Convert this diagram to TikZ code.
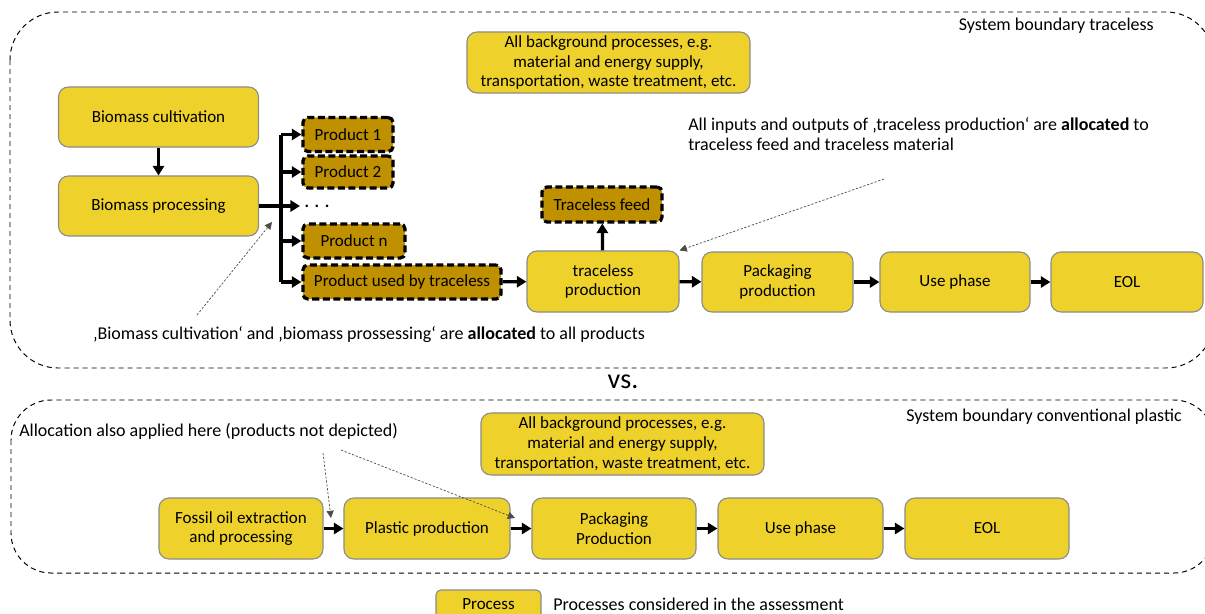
\documentclass[tikz,border=0pt]{standalone}
\usepackage{fontspec}
\setmainfont{Carlito}
\usetikzlibrary{arrows.meta}
\definecolor{procfill}{HTML}{EED12B}
\definecolor{prodfill}{HTML}{BF9000}
\definecolor{procline}{HTML}{8C8C8C}
\tikzset{
	proc/.style={draw=procline, line width=0.8pt, fill=procfill, rounded corners=0.25cm, align=center, inner sep=1pt},
	prod/.style={draw=black, line width=2.3pt, dash pattern=on 5pt off 2.5pt, fill=prodfill, rounded corners=0.12cm, inner sep=1pt},
	flow/.style={line width=2.3pt, -{Triangle[length=2.4mm,width=2.8mm]}},
	bus/.style={line width=2.3pt},
	note/.style={line width=0.5pt, dash pattern=on 1.6pt off 1.2pt, draw=black!70, -{Triangle[length=1.8mm,width=1.8mm]}},
	boundary/.style={line width=0.7pt, dash pattern=on 3.6pt off 2.8pt},
	lbl/.style={inner sep=0pt, align=left, font=\fontsize{12.8}{14.6}\selectfont}
}
\begin{document}
\fontsize{12.1}{13.9}\selectfont
\begin{tikzpicture}[x=0.025cm, y=-0.025cm]
	\useasboundingbox (0,0) rectangle (1205,613);
		\draw[boundary, rounded corners=1.2cm] (10,12) rectangle (1214,368);
		\draw[boundary, rounded corners=1.0cm] (11,400) rectangle (1214,573);
		\node[lbl, anchor=east] (BndT) at (1154,26) {System boundary traceless};
		\node[lbl, anchor=east] (BndC) at (1182,417) {System boundary conventional plastic};
		\node[lbl, font=\fontsize{20}{22}\selectfont] (Vs) at (623,382) {vs.};

		\node[proc, minimum width=7.075cm, minimum height=1.525cm] (BgT) at (608.5,62.5) {All background processes, e.g.\\material and energy supply,\\transportation, waste treatment, etc.};
		\node[proc, minimum width=5cm, minimum height=1.5cm] (Cult) at (158.5,117) {Biomass cultivation};
		\node[proc, minimum width=5cm, minimum height=1.5cm] (Proc) at (158.5,206) {Biomass processing};
		\node[prod, minimum width=2.25cm, minimum height=0.85cm] (P1) at (348,134.5) {Product 1};
		\node[prod, minimum width=2.25cm, minimum height=0.8cm] (P2) at (348,172) {Product 2};
		\node[inner sep=1pt, anchor=west, font=\bfseries] (Dots) at (300,206) {\,.\,\,.\,\,.};
		\node[prod, minimum width=2.55cm, minimum height=0.85cm] (Pn) at (354,241) {Product n};
		\node[prod, minimum width=4.95cm, minimum height=0.85cm] (Pused) at (402,282) {Product used by traceless};
		\node[proc, minimum width=3.8cm, minimum height=1.525cm] (Tprod) at (603,281.5) {traceless\\production};
		\node[prod, minimum width=3cm, minimum height=0.87cm] (Tfeed) at (602,204.5) {Traceless feed};
		\node[proc, minimum width=3.775cm, minimum height=1.5cm] (Pack) at (777.5,282) {Packaging\\production};
		\node[proc, minimum width=3.75cm, minimum height=1.5cm] (Use) at (955,282) {Use phase};
		\node[proc, minimum width=3.8cm, minimum height=1.5cm] (Eol) at (1127,282) {EOL};
		\coordinate (Bus) at (281,206);

		\draw[flow] (Cult) -- (Proc);
		\draw[flow] (Proc.east) -- (Dots.west);
		\draw[bus] (Bus |- P1.west) -- (Bus |- Pused.west);
		\foreach \p in {P1,P2,Pn,Pused}{
			\draw[flow] (Bus |- \p.west) -- (\p.west);
		}
		\draw[flow] (Pused) -- (Tprod);
		\draw[flow] (Tprod) -- (Tfeed);
		\draw[flow] (Tprod) -- (Pack);
		\draw[flow] (Pack) -- (Use);
		\draw[flow] (Use) -- (Eol);

		\node[lbl, anchor=north west] (NoteT) at (688,117) {All inputs and outputs of ‚traceless production‘ are \textbf{allocated} to\\traceless feed and traceless material};
		\coordinate (NoteTs) at (884,179);
		\draw[note] (NoteTs) -- (Tprod.north east);
		\node[lbl] (NoteB) at (369,335) {‚Biomass cultivation‘ and ‚biomass prossessing‘ are \textbf{allocated} to all products};
		\coordinate (NoteBs) at (197,315);
		\coordinate (NoteBe) at (272,222);
		\draw[note] (NoteBs) -- (NoteBe);

		\node[proc, minimum width=7.075cm, minimum height=1.55cm] (BgC) at (622.5,444) {All background processes, e.g.\\material and energy supply,\\transportation, waste treatment, etc.};
		\node[proc, minimum width=4.1cm, minimum height=1.525cm] (Fossil) at (241,528.5) {Fossil oil extraction\\and processing};
		\node[proc, minimum width=4.15cm, minimum height=1.525cm] (Plastic) at (427,528.5) {Plastic production};
		\node[proc, minimum width=4.1cm, minimum height=1.525cm] (PackC) at (614,528.5) {Packaging\\Production};
		\node[proc, minimum width=4.125cm, minimum height=1.525cm] (UseC) at (800.5,528.5) {Use phase};
		\node[proc, minimum width=4.1cm, minimum height=1.525cm] (EolC) at (987,528.5) {EOL};
		\draw[flow] (Fossil) -- (Plastic);
		\draw[flow] (Plastic) -- (PackC);
		\draw[flow] (PackC) -- (UseC);
		\draw[flow] (UseC) -- (EolC);

		\node[lbl, anchor=west] (NoteC) at (19,431) {Allocation also applied here (products not depicted)};
		\coordinate (NoteCa) at (323,453);
		\coordinate (NoteCb) at (341,450);
		\coordinate (NoteCe) at (331,518);
		\coordinate (NoteCf) at (515,518);
		\draw[note] (NoteCa) -- (NoteCe);
		\draw[note] (NoteCb) -- (NoteCf);

		\node[proc, minimum width=2.625cm, minimum height=0.7cm, rounded corners=0.12cm] (Leg) at (488.5,604) {Process};
		\node[lbl, anchor=west] (LegT) at (553,604) {Processes considered in the assessment};
	\end{tikzpicture}
\end{document}
